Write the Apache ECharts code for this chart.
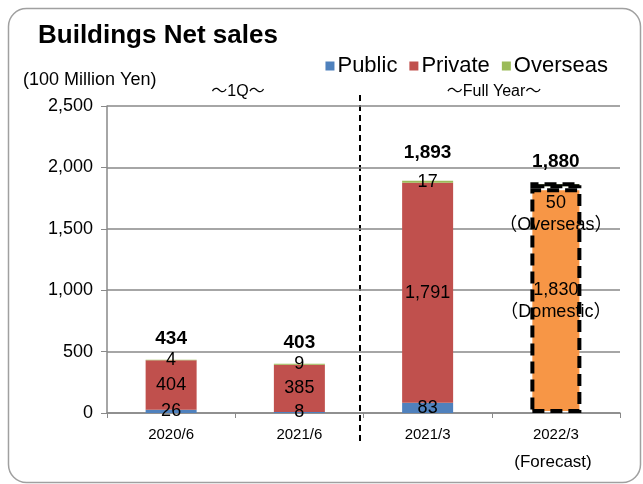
<!DOCTYPE html>
<html>
<head>
<meta charset="utf-8">
<script src="https://cdn.jsdelivr.net/npm/echarts@6/dist/echarts.min.js"></script>
<style>
html,body{margin:0;padding:0;background:#fff;}
#c{width:643px;height:484px;}
</style>
</head>
<body>
<div id="c"></div>
<script>
var categories = ['2020/6', '2021/6', '2021/3', '2022/3'];
var publicVals = [26, 8, 83, null];
var privateVals = [404, 385, 1791, null];
var domesticVals = [null, null, null, 1830];
var overseasVals = [4, 9, 17, 50];
var totals = [434, 403, 1893, 1880];
var yTicks = [0, 500, 1000, 1500, 2000, 2500];

var FONT = '"Liberation Sans", Arial, "Noto Sans CJK JP", sans-serif';
function fmt(v){ return String(v).replace(/\B(?=(\d{3})+(?!\d))/g, ','); }

var chart = echarts.init(document.getElementById('c'), null, {renderer:'canvas'});
var dashedBorder = {borderColor:'#000', borderWidth:4, borderType:[12,6]};

var option = {
  animation:false,
  textStyle:{fontFamily:FONT},
  title:{text:'Buildings Net sales', left:33, top:18,
    textStyle:{fontFamily:FONT, fontWeight:'bold', fontSize:26, color:'#000'}},
  legend:{
    data:['Public','Private','Overseas'], right:30, top:50,
    itemWidth:9, itemHeight:9, itemGap:12, icon:'rect',
    textStyle:{fontFamily:FONT, fontSize:22, color:'#000', padding:[0,0,0,-2]}
  },
  grid:{left:107, right:23, top:106, bottom:71, containLabel:false},
  xAxis:{
    type:'category', data:categories,
    axisLine:{lineStyle:{color:'#898989', width:1.5}},
    axisTick:{show:true, length:5, lineStyle:{color:'#898989'}},
    axisLabel:{fontFamily:FONT, fontSize:15, color:'#000', margin:14}
  },
  yAxis:{
    type:'value', min:yTicks[0], max:yTicks[yTicks.length-1], interval:500,
    axisLine:{show:true, lineStyle:{color:'#898989', width:1.5}},
    axisTick:{show:true, length:6, lineStyle:{color:'#898989'}},
    splitLine:{lineStyle:{color:'#898989', width:1.5}},
    axisLabel:{fontFamily:FONT, fontSize:18, color:'#000', margin:14, formatter:function(v){return fmt(v);}}
  },
  series:[
    {name:'Public', type:'bar', stack:'s', data:publicVals, barWidth:51,
     itemStyle:{color:'#4F81BD'},
     label:{show:true, position:'inside', color:'#000', fontSize:18, fontFamily:FONT, formatter:function(p){return fmt(p.value);}}},
    {name:'Private', type:'bar', stack:'s', data:privateVals,
     itemStyle:{color:'#C0504D'},
     label:{show:true, position:'inside', color:'#000', fontSize:18, fontFamily:FONT, formatter:function(p){return fmt(p.value);}}},
    {name:'Domestic', type:'bar', stack:'s', data:domesticVals,
     itemStyle:Object.assign({color:'#F79646'}, dashedBorder),
     label:{show:true, position:'inside', color:'#000', fontSize:18, fontFamily:FONT, lineHeight:22,
       formatter:function(p){return fmt(p.value)+'\n（Domestic）';}}},
    {name:'Overseas', type:'bar', stack:'s',
     data:overseasVals.map(function(v,i){
       if(i===3){
         return {value:v, itemStyle:Object.assign({color:'#9BBB59'}, dashedBorder),
           label:{position:'bottom', distance:4, lineHeight:22, formatter:function(p){return fmt(p.value)+'\n（Overseas）';}}};
       }
       return v;
     }),
     itemStyle:{color:'#9BBB59'},
     label:{show:true, position:'inside', color:'#000', fontSize:18, fontFamily:FONT, formatter:function(p){return fmt(p.value);}}},
    {name:'Total', type:'scatter', data:totals.map(function(v,i){
        return i===2 ? {value:v, label:{distance:18}} : v;
      }),
     symbolSize:0, silent:true, itemStyle:{opacity:1},
     label:{show:true, position:'top', distance:11, color:'#000', opacity:1, fontSize:19, fontWeight:'bold', fontFamily:FONT,
       formatter:function(p){return fmt(p.value);}}}
  ],
  graphic:[
    {type:'rect', shape:{x:8.5, y:8.5, width:632, height:474, r:18}, style:{fill:'none', stroke:'#A0A0A0', lineWidth:1.5}, z:-1},
    {type:'line', shape:{x1:360, y1:95, x2:360, y2:441}, style:{stroke:'#000', lineWidth:2, lineDash:[6,4]}},
    {type:'text', x:23, y:80, style:{text:'(100 Million Yen)', font:'18px '+FONT, fill:'#000', textVerticalAlign:'middle'}},
    {type:'text', x:238, y:92, style:{text:'～1Q～', font:'16px '+FONT, fill:'#000', textAlign:'center', textVerticalAlign:'middle'}},
    {type:'text', x:494, y:92, style:{text:'～Full Year～', font:'16px '+FONT, fill:'#000', textAlign:'center', textVerticalAlign:'middle'}},
    {type:'text', x:553, y:462, style:{text:'(Forecast)', font:'17px '+FONT, fill:'#000', textAlign:'center', textVerticalAlign:'middle'}}
  ]
};
chart.setOption(option);
</script>
</body>
</html>
